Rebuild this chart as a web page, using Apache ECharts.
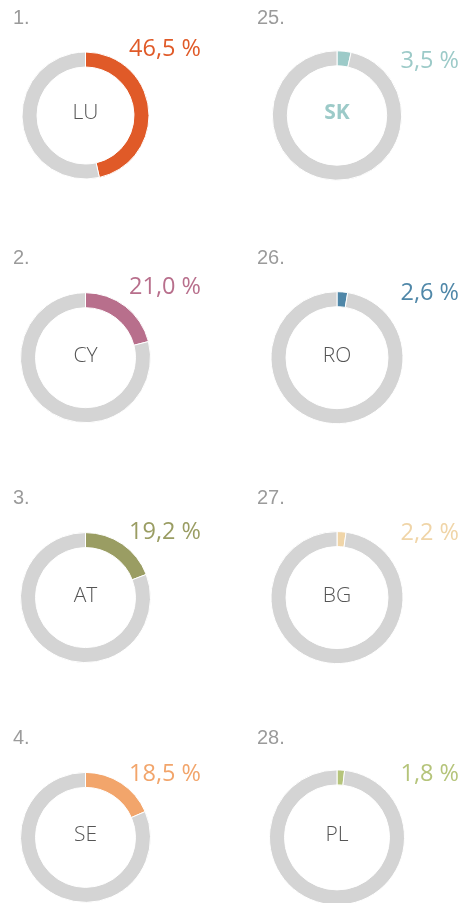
<!DOCTYPE html>
<html>
<head>
<meta charset="utf-8">
<style>
  html, body { margin: 0; padding: 0; background: #fff; }
  #chart { width: 461px; height: 903px; }
</style>
<script src="https://cdn.jsdelivr.net/npm/echarts@6/dist/echarts.min.js"></script>
</head>
<body>
<div id="chart"></div>
<script>
// rank, country code and share (%) for each donut
var ranks = ["1.", "2.", "3.", "4.", "25.", "26.", "27.", "28."];
var countries = ["LU", "CY", "AT", "SE", "SK", "RO", "BG", "PL"];
var shares = [46.5, 21.0, 19.2, 18.5, 3.5, 2.6, 2.2, 1.8];
var colors = ["#e05a28", "#b86f8c", "#9a9d63", "#f2a56b", "#9ccac8", "#4f87a8", "#f0d5a8", "#b5c47a"];
var highlight = "SK";

var rest = "#d4d4d4";
var font = "'Open Sans', sans-serif";

// layout
var colX = [85.5, 337];
var rowY = [115.5, 357.7, 597.6, 837.4];
var radii = [[63.5, 65, 65, 65], [64.7, 66, 66, 67.5]];
var ringWidth = 15;
var rankX = [13, 257];
var rankTop = [8, 248, 488, 728];
var pctRight = [201, 459];
var pctY = [[49, 287, 532, 774], [61, 293.5, 533.5, 774]];

var chart = echarts.init(document.getElementById("chart"));

var series = [];
var graphics = [];

shares.forEach(function (v, i) {
  var col = i < 4 ? 0 : 1;
  var row = i % 4;
  var r = radii[col][row];
  series.push({
    type: "pie",
    center: [colX[col], rowY[row]],
    radius: [r - ringWidth, r],
    startAngle: 90,
    clockwise: true,
    silent: true,
    animation: false,
    label: { show: false },
    labelLine: { show: false },
    itemStyle: { borderColor: "#fff", borderWidth: 1 },
    data: [
      { value: v, itemStyle: { color: colors[i] } },
      { value: 100 - v, itemStyle: { color: rest } }
    ]
  });

  graphics.push({
    type: "text",
    left: rankX[col],
    top: rankTop[row],
    style: {
      text: ranks[i],
      font: "20px 'Liberation Sans', Arial, sans-serif",
      fill: "#9b9b9b"
    }
  });

  var isHi = countries[i] === highlight;
  graphics.push({
    type: "text",
    x: colX[col],
    y: rowY[row] - 2,
    style: {
      text: countries[i],
      font: (isHi ? "bold " : "300 ") + "21px " + font,
      fill: isHi ? colors[i] : "#555",
      align: "center",
      verticalAlign: "middle"
    }
  });

  graphics.push({
    type: "text",
    x: pctRight[col],
    y: pctY[col][row],
    style: {
      text: v.toFixed(1).replace(".", ",") + " %",
      font: "23.5px " + font,
      fill: colors[i],
      align: "right",
      verticalAlign: "middle"
    }
  });
});

chart.setOption({
  backgroundColor: "#fff",
  animation: false,
  series: series,
  graphic: graphics
});
</script>
</body>
</html>
